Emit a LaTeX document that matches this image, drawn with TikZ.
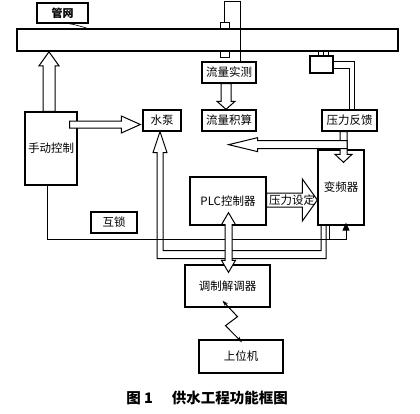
\documentclass[tikz,border=0pt]{standalone}
\usepackage{fontspec}
\setmainfont{Noto Sans CJK SC}
\usetikzlibrary{arrows.meta, positioning, calc}

% hollow block arrow: from, to, half shaft, half head, head length
\newcommand{\blockarrow}[5]{%
  \coordinate (ba-c) at ($(#2)!#5!(#1)$);
  \draw[fill=white] ($(#1)!#3!90:(#2)$) -- ($(ba-c)!#3!-90:(#1)$) -- ($(ba-c)!#4!-90:(#1)$) -- (#2)
    -- ($(ba-c)!#4!90:(#1)$) -- ($(ba-c)!#3!90:(#1)$) -- ($(#1)!#3!-90:(#2)$) -- cycle;
}
% same, with a head at both ends
\newcommand{\dblarrow}[5]{%
  \coordinate (ba-c) at ($(#2)!#5!(#1)$);
  \coordinate (ba-d) at ($(#1)!#5!(#2)$);
  \draw[fill=white] (#1) -- ($(ba-d)!#4!90:(#2)$) -- ($(ba-d)!#3!90:(#2)$) -- ($(ba-c)!#3!-90:(#1)$)
    -- ($(ba-c)!#4!-90:(#1)$) -- (#2) -- ($(ba-c)!#4!90:(#1)$) -- ($(ba-c)!#3!90:(#1)$)
    -- ($(ba-d)!#3!-90:(#2)$) -- ($(ba-d)!#4!-90:(#2)$) -- cycle;
}

\begin{document}
\begin{tikzpicture}[x=1pt, y=-1pt, line width=1pt,
  box/.style={draw, line width=1.3pt, inner sep=0pt, font=\fontsize{11.5}{13}\selectfont},
  tiny/.style={draw, line width=1pt, inner sep=0pt}]
  \useasboundingbox (0,0) rectangle (420,413);

  % Pipe network
  \node[box, minimum width=381pt, minimum height=22pt, line width=1.6pt] (pipe) at (207.5,40) {};
  \node[box, minimum width=51pt, minimum height=20pt, font=\fontsize{11}{13}\selectfont\bfseries] (gw) at (62.5,13) {管网};
  \draw[line width=0.6pt] ($(gw.south east)+(-20,0)$) to[out=-8, in=165] ($(pipe.north west)+(71,0)$);

  % Flow meter
  \node[tiny, minimum width=9pt, minimum height=7pt] (fm1) at (224.5,25.5) {};
  \node[tiny, minimum width=9pt, minimum height=6pt] (fm2) at (224.5,54) {};
  \node[box, minimum width=54pt, minimum height=21pt] (llss) at (229,72.5) {流量实测};
  \draw (fm1.north) -- ++(0,-20) -| ($(llss.north)+(11,0)$);
  \node[box, minimum width=54pt, minimum height=21pt] (lljs) at (229,120.5) {流量积算};
  \coordinate (a1) at ($(llss.south)+(-3,0)$);
  \coordinate (a2) at ($(lljs.north)+(-3,0)$);
  \blockarrow{a1}{a2}{5pt}{9pt}{8pt}

  % Pressure sensor
  \node[tiny, minimum width=10pt, minimum height=5pt] (psc) at (323,53.5) {};
  \draw (psc.north) -- (psc.south);
  \node[box, minimum width=23pt, minimum height=17pt] (ps) at (321.5,64.5) {};
  \node[box, minimum width=55pt, minimum height=21pt] (ylfk) at (349.5,120.5) {压力反馈};
  \draw ($(ps.north east)+(0,6)$) -| ($(ylfk.north)+(5,0)$);
  \draw ($(ps.north east)+(0,13)$) -| (ylfk.north);

  % Pump and manual control
  \node[box, minimum width=38pt, minimum height=21pt] (sb) at (162,120.5) {水泵};
  \node[box, minimum width=52pt, minimum height=73pt] (sd) at (51,148.5) {手动控制};
  \coordinate (a3) at ($(sd.north)+(-2,0)$);
  \coordinate (a4) at (a3 |- pipe.south);
  \blockarrow{a3}{a4}{6pt}{10pt}{14pt}
  \coordinate (a5) at ($(sd.east)+(-8,-24)$);
  \coordinate (a6) at ($(a5 -| sb.west)+(-2,0)$);
  \blockarrow{a5}{a6}{3.5pt}{8.5pt}{19pt}

  % Inverter
  \node[box, minimum width=46pt, minimum height=75pt] (bpq) at (341,187.5) {变频器};
  \coordinate (a7) at ($(ylfk.south)+(-6,0)$);
  \coordinate (a8) at ($(a7 |- bpq.north)+(0,13)$);
  \blockarrow{a7}{a8}{3.5pt}{8.5pt}{8pt}
  \coordinate (a9) at ($(a7)+(3.5,13)$);
  \coordinate (a10) at ($(lljs.east |- a9)+(-28,0)$);
  \blockarrow{a9}{a10}{4pt}{7pt}{29pt}

  % PLC
  \node[box, minimum width=76pt, minimum height=48pt] (plc) at (228,201) {PLC控制器};
  \coordinate (a11) at ($(plc.east)+(0,-1)$);
  \coordinate (a12) at (a11 -| bpq.west);
  \blockarrow{a11}{a12}{7pt}{21pt}{15pt}
  \node[font=\fontsize{11.5}{13}\selectfont, inner sep=0pt] (ylsd) at ($(a11)!0.5!(a12)$) {压力设定};

  % Interlock
  \node[box, minimum width=46pt, minimum height=21pt] (hs) at (114,222.5) {互锁};
  \draw[-{Triangle[length=8pt, width=7pt]}] ($(sd.south)+(-4,0)$) |- ($(bpq.south)+(5,14)$) -- ($(bpq.south)+(5,-3)$);
  \draw ($(bpq.south)+(-12,0)$) -- ++(0,14);

  % Supply pipe to pump
  \coordinate (t) at ($(sb.south)+(-2,0)$);
  \draw (t) -- ++(-7,21) -- ++(4,0) |- ($(bpq.south)+(-15,33)$) -- ++(0,-33);
  \draw (t) -- ++(7,21) -- ++(-4,0) |- ($(bpq.south)+(-20,25)$) -- ++(0,-25);

  % Modem and host
  \node[box, minimum width=85pt, minimum height=42pt] (tjq) at (227.5,286) {调制解调器};
  \coordinate (a13) at ($(plc.south)+(0.5,-13)$);
  \coordinate (a14) at ($(a13 |- tjq.north)+(0,8)$);
  \dblarrow{a13}{a14}{3.5pt}{7pt}{12pt}
  \node[box, minimum width=84pt, minimum height=33pt] (swj) at (241,356.5) {上位机};
  \draw[{Stealth[length=6pt, width=4pt]}-{Stealth[length=6pt, width=4pt]}] ($(tjq.south)+(-5,-7)$) -- ++(15,16) -- ++(-12,9) -- ($(swj.north)+(1,3)$);

  % Caption
  \node[font=\fontsize{14.5}{16}\selectfont\bfseries] (cap) at (207,398) {图 1\hspace{1.3em}供水工程功能框图};
\end{tikzpicture}
\end{document}
